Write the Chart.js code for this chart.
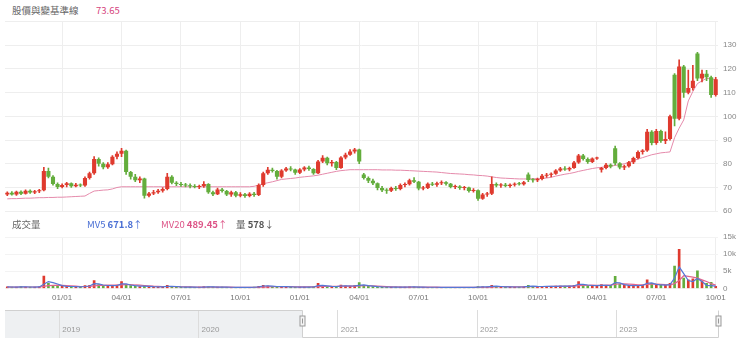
<!DOCTYPE html>
<html lang="zh-Hant">
<head>
<meta charset="utf-8">
<script src="https://cdn.jsdelivr.net/npm/chart.js@4.4.1/dist/chart.umd.min.js"></script>
<style>
  html, body { margin: 0; padding: 0; background: #fff; }
  body { width: 740px; height: 348px; position: relative; overflow: hidden;
         font-family: 'Noto Sans CJK TC', 'Liberation Sans', sans-serif; }
  canvas { position: absolute; left: 0; }
  .txt { position: absolute; font-size: 9.5px; line-height: 12px; white-space: nowrap; }
  .txt b { font-weight: 600; }
</style>
</head>
<body>
<div class="txt" style="left:12px;top:4px;color:#666">股價與變基準線</div>
<div class="txt" style="left:96px;top:4px;color:#d6447d">73.65</div>
<canvas id="priceChart" width="740" height="221" style="top:0"></canvas>
<div class="txt" style="left:12px;top:218px;color:#666">成交量</div>
<div class="txt" style="left:87px;top:218px;color:#4a6fd4">MV5 <b>671.8</b>↑</div>
<div class="txt" style="left:161px;top:218px;color:#dd5487">MV20 <b>489.45</b>↑</div>
<div class="txt" style="left:236px;top:218px;color:#555">量 <b>578</b>↓</div>
<canvas id="volumeChart" width="740" height="84" style="top:225px"></canvas>
<canvas id="navChart" width="740" height="43" style="top:305px"></canvas>
<script>
// weekly candles, one row per quarter (Oct 2020 .. Sep 2023)
const opens = [
  67.0, 67.8, 67.0, 68.2, 67.4, 68.6, 67.9, 68.4, 68.8, 77.0, 74.5, 71.5, 70.2,
  71.0, 71.8, 70.5, 71.2, 70.8, 74.0, 76.0, 82.0, 80.0, 78.5, 79.8, 83.0, 84.2,
  85.5, 76.5, 74.5, 73.0, 73.8, 66.5, 67.5, 68.0, 68.6, 69.4, 74.5, 72.0, 71.5,
  71.0, 70.8, 70.5, 70.2, 70.6, 71.5, 68.0, 67.2, 69.2, 68.5, 67.0, 68.0, 66.5,
  67.2, 66.4, 67.4, 66.8, 71.0, 76.0, 77.5, 77.0, 74.5, 77.2, 78.0, 77.6, 76.2,
  77.6, 78.4, 77.8, 76.0, 81.0, 82.5, 80.2, 80.8, 78.2, 82.6, 83.8, 85.2, 86.0,
  75.5, 74.0, 72.8, 71.8, 69.8, 68.8, 68.6, 69.8, 69.4, 71.0, 71.4, 73.0, 72.4,
  69.6, 69.8, 71.6, 71.2, 71.8, 72.2, 71.6, 70.2, 70.4, 69.8, 70.0, 68.5, 68.8,
  65.2, 67.0, 67.4, 71.5, 70.8, 71.2, 70.6, 71.2, 71.6, 71.4, 75.5, 73.2, 73.0,
  73.6, 75.0, 75.4, 75.8, 77.2, 78.0, 77.6, 78.2, 80.5, 83.5, 82.0, 80.8, 82.2,
  77.5, 78.2, 79.6, 86.5, 80.2, 78.4, 79.0, 80.6, 82.4, 85.0, 85.6, 93.5, 88.8,
  93.8, 89.6, 90.5, 117.5, 99.0, 121.0, 110.0, 112.0, 126.5, 116.0, 118.0, 116.5, 109.0
];
const highs = [
  68.2, 68.3, 68.5, 68.6, 69.0, 69.0, 68.8, 69.2, 78.5, 78.2, 75.0, 72.0, 71.5,
  72.2, 72.0, 71.8, 71.5, 74.5, 76.5, 83.0, 82.5, 80.5, 80.5, 83.5, 85.0, 86.5,
  85.8, 76.8, 75.5, 74.5, 74.0, 68.0, 68.8, 69.2, 70.0, 76.0, 75.0, 72.5, 72.2,
  71.8, 71.5, 71.2, 71.0, 72.5, 71.6, 68.5, 69.8, 69.6, 68.8, 68.5, 68.4, 67.8,
  67.5, 67.8, 68.0, 71.5, 76.5, 78.5, 78.2, 77.2, 77.5, 78.5, 78.8, 77.8, 78.0,
  78.8, 79.0, 78.0, 81.5, 83.5, 82.8, 81.5, 81.0, 83.0, 84.5, 86.0, 86.5, 86.2,
  76.0, 74.5, 73.5, 72.0, 70.5, 69.5, 70.2, 70.5, 71.5, 72.0, 73.5, 74.2, 72.6,
  70.5, 72.0, 72.2, 72.3, 72.8, 72.5, 71.8, 71.0, 70.8, 70.5, 70.2, 69.5, 69.0,
  67.5, 68.0, 74.5, 72.0, 71.6, 71.8, 71.5, 72.0, 72.2, 72.6, 76.2, 73.8, 74.0,
  75.5, 76.0, 76.2, 77.5, 78.5, 78.8, 78.6, 81.0, 84.0, 84.0, 82.5, 82.5, 82.8,
  78.5, 80.2, 80.0, 87.5, 80.5, 79.5, 81.0, 82.8, 85.5, 86.0, 94.5, 94.0, 94.5,
  94.2, 93.5, 100.5, 118.0, 123.8, 121.5, 119.5, 121.5, 127.0, 119.5, 119.4, 117.0, 116.5
];
const lows = [
  66.5, 66.8, 66.7, 67.0, 67.2, 67.5, 67.4, 67.8, 68.5, 74.0, 71.0, 69.5, 69.8,
  70.2, 70.0, 70.2, 70.3, 70.5, 73.5, 75.5, 79.0, 77.8, 78.0, 79.5, 82.0, 83.0,
  75.5, 73.5, 72.5, 72.0, 65.5, 66.0, 67.0, 67.5, 68.0, 69.0, 71.5, 70.8, 70.5,
  70.2, 69.8, 69.8, 69.5, 70.0, 67.5, 66.5, 67.0, 68.0, 66.5, 66.2, 66.0, 66.0,
  65.8, 66.0, 66.2, 66.5, 70.5, 75.5, 76.5, 73.5, 74.0, 76.8, 77.0, 75.5, 75.8,
  77.0, 77.2, 75.5, 75.8, 80.5, 79.5, 79.0, 77.5, 78.0, 82.0, 83.5, 84.5, 80.0,
  73.5, 72.0, 71.2, 69.0, 68.2, 67.5, 68.2, 68.8, 69.0, 70.2, 71.0, 72.0, 69.0,
  69.0, 69.5, 70.8, 70.5, 71.2, 71.0, 69.8, 69.5, 69.2, 69.0, 68.0, 68.0, 64.5,
  65.0, 66.2, 67.0, 70.2, 70.0, 70.2, 70.0, 70.6, 71.0, 71.0, 72.5, 72.2, 72.5,
  73.2, 74.2, 74.5, 75.5, 76.8, 77.2, 77.0, 78.0, 80.2, 81.5, 80.2, 80.5, 81.8,
  76.5, 77.8, 78.2, 79.5, 77.8, 77.5, 78.6, 80.0, 82.0, 84.0, 85.2, 88.0, 88.2,
  89.0, 88.5, 90.0, 96.0, 98.5, 108.0, 109.5, 111.0, 115.0, 114.5, 115.0, 108.0, 108.5
];
const closes = [
  67.8, 67.0, 68.2, 67.4, 68.6, 67.9, 68.4, 68.8, 77.0, 74.5, 71.5, 70.2, 71.0,
  71.8, 70.5, 71.2, 70.8, 74.0, 76.0, 82.0, 80.0, 78.5, 79.8, 83.0, 84.2, 85.5,
  76.5, 74.5, 73.0, 73.8, 66.5, 67.5, 68.0, 68.6, 69.4, 74.5, 72.0, 71.5, 71.0,
  70.8, 70.5, 70.2, 70.6, 71.5, 68.0, 67.2, 69.2, 68.5, 67.0, 68.0, 66.5, 67.2,
  66.4, 67.4, 66.8, 71.0, 76.0, 77.5, 77.0, 74.5, 77.2, 78.0, 77.6, 76.2, 77.6,
  78.4, 77.8, 76.0, 81.0, 82.5, 80.2, 80.8, 78.2, 82.6, 83.8, 85.2, 86.0, 81.0,
  74.0, 72.8, 71.8, 69.8, 68.8, 68.6, 69.8, 69.4, 71.0, 71.4, 73.0, 72.4, 69.6,
  69.8, 71.6, 71.2, 71.8, 72.2, 71.6, 70.2, 70.4, 69.8, 70.0, 68.5, 68.8, 65.2,
  67.0, 67.4, 71.5, 70.8, 71.2, 70.6, 71.2, 71.6, 71.4, 72.2, 73.2, 73.0, 73.6,
  75.0, 75.4, 75.8, 77.2, 78.0, 77.6, 78.2, 80.5, 83.5, 82.0, 80.8, 82.2, 82.4,
  78.2, 79.6, 78.8, 80.2, 78.4, 79.0, 80.6, 82.4, 85.0, 85.6, 93.5, 88.8, 93.8,
  89.6, 90.5, 100.0, 99.0, 121.0, 110.0, 112.0, 115.0, 116.0, 118.0, 116.5, 109.0, 115.6
];
// pink baseline
const baseLine = [
  65.2, 65.3, 65.3, 65.4, 65.5, 65.5, 65.6, 65.7, 65.7, 65.8, 65.8, 65.9, 65.9,
  66.0, 66.1, 66.2, 66.3, 66.4, 67.5, 68.5, 68.7, 68.9, 69.0, 69.4, 70.0, 70.3,
  70.3, 70.3, 70.3, 70.3, 70.3, 70.3, 70.3, 70.3, 70.3, 70.3, 70.3, 70.3, 70.3,
  70.3, 70.3, 70.3, 70.3, 70.3, 70.3, 70.3, 70.3, 70.3, 70.3, 70.3, 70.3, 70.3,
  70.3, 70.3, 70.5, 71.0, 71.6, 72.0, 72.4, 72.9, 73.4, 73.6, 73.8, 74.0, 74.3,
  74.5, 74.7, 74.9, 75.2, 75.6, 76.0, 76.4, 76.8, 77.1, 77.3, 77.5, 77.5, 77.5,
  77.5, 77.5, 77.5, 77.5, 77.4, 77.4, 77.4, 77.3, 77.3, 77.2, 77.1, 77.0, 76.9,
  76.8, 76.7, 76.6, 76.5, 76.3, 76.1, 75.9, 75.8, 75.7, 75.6, 75.4, 75.3, 75.1,
  75.0, 74.8, 74.5, 74.2, 74.0, 73.9, 73.8, 73.7, 73.6, 73.6, 73.6, 73.7, 73.7,
  73.8, 74.0, 74.3, 74.8, 75.2, 75.6, 75.9, 76.3, 76.8, 77.2, 77.6, 78.0, 78.3,
  78.5, 78.8, 79.0, 79.3, 79.6, 80.0, 80.6, 81.3, 82.0, 82.6, 83.2, 83.8, 84.2,
  84.6, 84.8, 85.0, 91.0, 95.0, 98.5, 106.5, 110.5, 113.8, 115.0, 116.0, 115.8, 115.5
];
const volumes = [
  450, 380, 420, 500, 400, 360, 420, 450, 3600, 1500, 900, 700, 600,
  520, 480, 450, 420, 800, 900, 2300, 1100, 800, 700, 900, 1000, 2000,
  1200, 800, 600, 550, 800, 500, 450, 420, 400, 900, 600, 450, 400,
  380, 350, 330, 350, 500, 450, 400, 380, 350, 330, 320, 300, 320,
  300, 320, 350, 600, 900, 700, 500, 450, 550, 450, 400, 380, 400,
  420, 380, 450, 1500, 800, 600, 500, 450, 1000, 700, 650, 800, 1700,
  900, 600, 500, 450, 400, 380, 350, 350, 380, 400, 450, 400, 350,
  320, 330, 340, 320, 300, 300, 280, 280, 290, 300, 300, 320, 500,
  450, 400, 900, 500, 450, 420, 400, 400, 420, 450, 900, 600, 500,
  550, 600, 550, 650, 700, 650, 700, 900, 2000, 900, 800, 700, 900,
  1100, 800, 900, 3500, 1200, 900, 800, 800, 900, 1000, 2500, 1500, 900,
  1000, 900, 1500, 6500, 11400, 3000, 2500, 2800, 5100, 2200, 1500, 1800, 578
];
const mv5 = [
  420, 410, 400, 430, 430, 410, 400, 420, 1200, 2000, 1700, 1300, 800,
  600, 550, 500, 460, 550, 700, 1400, 1300, 1000, 850, 800, 850, 1300,
  1300, 1000, 800, 650, 650, 600, 500, 460, 430, 600, 600, 550, 450,
  400, 370, 350, 340, 400, 430, 420, 400, 370, 350, 330, 320, 315,
  310, 310, 330, 420, 700, 750, 650, 550, 520, 500, 450, 410, 400,
  400, 400, 410, 800, 900, 750, 600, 520, 700, 750, 700, 720, 900,
  1000, 800, 650, 520, 450, 410, 380, 360, 360, 380, 410, 420, 390,
  350, 330, 330, 330, 320, 310, 300, 290, 285, 290, 300, 305, 380,
  430, 430, 600, 650, 550, 470, 430, 410, 410, 420, 600, 650, 580,
  550, 570, 580, 600, 640, 660, 680, 750, 1200, 1200, 1000, 850, 800,
  900, 900, 850, 1700, 1600, 1100, 900, 830, 850, 900, 1500, 1600, 1200,
  1000, 950, 1100, 3000, 6300, 4300, 2300, 2000, 2900, 2000, 900, 800, 672
];
const mv20 = [
  400, 400, 400, 410, 410, 410, 410, 410, 600, 800, 900, 950, 900,
  850, 750, 650, 550, 550, 580, 750, 850, 900, 950, 950, 950, 1050,
  1100, 1100, 1000, 950, 850, 750, 650, 600, 550, 550, 520, 500, 480,
  460, 430, 400, 380, 380, 380, 390, 390, 380, 370, 350, 340, 330,
  320, 320, 320, 340, 400, 450, 500, 520, 520, 510, 490, 470, 450,
  440, 430, 420, 500, 560, 600, 620, 620, 640, 660, 660, 680, 750,
  800, 780, 740, 680, 600, 540, 480, 430, 400, 390, 390, 390, 390,
  380, 370, 360, 350, 340, 330, 320, 310, 300, 300, 300, 300, 310,
  330, 350, 400, 450, 480, 490, 480, 470, 460, 450, 480, 520, 540,
  550, 560, 570, 580, 600, 620, 640, 670, 800, 880, 920, 930, 900,
  920, 950, 950, 1200, 1350, 1300, 1250, 1150, 1050, 1000, 1150, 1250, 1250,
  1200, 1100, 1050, 1400, 2300, 3700, 3500, 3300, 3000, 2500, 2000, 1400, 950
];
const priceTicks = [60, 70, 80, 90, 100, 110, 120, 130, 140];
const volumeTicks = [0, 5000, 10000, 15000];
// navigator: year range and the selected window (in years)
const navRange = [2018.61, 2023.73];
const navSelection = [2020.745, 2023.73];
const navYears = [2019, 2020, 2021, 2022, 2023];

const upColor = '#df3a2e';
const downColor = '#63ad3c';
const gridColor = '#eeeeee';
const tickFont = { family: 'Liberation Sans', size: 8 };

function weekDay(i, d) {
  return new Date(2020, 9, 5 + 7 * i + d);
}
const weekLabels = closes.map((_, i) => {
  const d = weekDay(i, 0);
  return d.getFullYear() + '-' + (d.getMonth() + 1) + '-' + d.getDate();
});
function quarterLabel(i) {
  for (let d = 0; d < 7; d++) {
    const day = weekDay(i, d);
    if (day.getDate() === 1 && day.getMonth() % 3 === 0) {
      return String(day.getMonth() + 1).padStart(2, '0') + '/01';
    }
  }
  return '';
}
const candleColors = closes.map((c, i) => (c >= opens[i] ? upColor : downColor));

function xAxis(showLabels) {
  return {
    type: 'category',
    offset: true,
    border: { display: false },
    grid: {
      offset: false,
      drawTicks: false,
      color: ctx => (quarterLabel(ctx.index) ? gridColor : 'rgba(0,0,0,0)')
    },
    ticks: {
      display: showLabels,
      autoSkip: false,
      maxRotation: 0,
      padding: 5,
      color: '#777',
      font: tickFont,
      callback: (v, i) => quarterLabel(i)
    }
  };
}

new Chart(document.getElementById('priceChart'), {
  type: 'bar',
  data: {
    labels: weekLabels,
    datasets: [
      { type: 'line', data: baseLine, borderColor: '#e58aab', borderWidth: 1,
        pointRadius: 0, order: 3 },
      { data: lows.map((l, i) => [l, highs[i]]), backgroundColor: candleColors,
        barThickness: 1, grouped: false, order: 2 },
      { data: opens.map((o, i) => [o, closes[i]]), backgroundColor: candleColors,
        barPercentage: 0.9, categoryPercentage: 1, minBarLength: 1, grouped: false, order: 1 }
    ]
  },
  options: {
    responsive: false,
    animation: false,
    layout: { padding: { top: 21.5, bottom: 6, left: 5, right: 3 } },
    plugins: { legend: { display: false }, tooltip: { enabled: false } },
    scales: {
      x: xAxis(false),
      y: {
        position: 'right',
        min: priceTicks[0],
        max: priceTicks[priceTicks.length - 1],
        afterBuildTicks: s => { s.ticks = priceTicks.map(v => ({ value: v })); },
        afterFit: s => { s.width = 19; },
        border: { display: false },
        grid: { color: gridColor, drawTicks: false },
        ticks: { padding: 5, color: '#888', font: tickFont,
                 callback: v => (v === 140 ? '' : v) }
      }
    }
  }
});

new Chart(document.getElementById('volumeChart'), {
  type: 'bar',
  data: {
    labels: weekLabels,
    datasets: [
      { type: 'line', data: mv5, borderColor: '#5577d6', borderWidth: 1.2,
        pointRadius: 0, order: 1 },
      { type: 'line', data: mv20, borderColor: '#e0668f', borderWidth: 1.2,
        pointRadius: 0, order: 1 },
      { data: volumes, backgroundColor: candleColors, barThickness: 2,
        grouped: false, order: 2 }
    ]
  },
  options: {
    responsive: false,
    animation: false,
    layout: { padding: { top: 12, bottom: 1, left: 5, right: 3 } },
    plugins: { legend: { display: false }, tooltip: { enabled: false } },
    scales: {
      x: xAxis(true),
      y: {
        position: 'right',
        min: 0,
        max: volumeTicks[volumeTicks.length - 1],
        afterBuildTicks: s => { s.ticks = volumeTicks.map(v => ({ value: v })); },
        afterFit: s => { s.width = 19; },
        border: { display: false },
        grid: { color: '#f3f3f3', drawTicks: false },
        ticks: { padding: 5, color: '#888', font: tickFont,
                 callback: v => (v === 0 ? '0' : v / 1000 + 'k') }
      }
    }
  }
});

const navigatorPlugin = {
  id: 'navigatorMask',
  beforeDraw(chart) {
    const { ctx, chartArea: a, scales: { x } } = chart;
    const x0 = x.getPixelForValue(navSelection[0]);
    const x1 = x.getPixelForValue(navSelection[1]);
    ctx.save();
    ctx.fillStyle = '#eef0f2';
    ctx.fillRect(a.left, a.top, x0 - a.left, a.bottom - a.top);
    if (x1 < a.right) ctx.fillRect(x1, a.top, a.right - x1, a.bottom - a.top);
    ctx.restore();
  },
  afterDraw(chart) {
    const { ctx, chartArea: a, scales: { x } } = chart;
    const x0 = Math.round(x.getPixelForValue(navSelection[0])) + 0.5;
    const x1 = Math.round(x.getPixelForValue(navSelection[1])) + 0.5;
    ctx.save();
    ctx.strokeStyle = '#d0d0d0';
    ctx.lineWidth = 1;
    ctx.beginPath();
    ctx.moveTo(a.left, a.top + 0.5);
    ctx.lineTo(x0, a.top + 0.5);
    ctx.lineTo(x0, a.bottom - 0.5);
    ctx.lineTo(x1, a.bottom - 0.5);
    ctx.lineTo(x1, a.top + 0.5);
    ctx.stroke();
    ctx.fillStyle = '#999';
    ctx.font = '8px "Liberation Sans"';
    ctx.textBaseline = 'middle';
    navYears.forEach(y => {
      ctx.fillText(String(y), x.getPixelForValue(y) + 3, a.bottom - 8);
    });
    [x0, x1].forEach(px => {
      ctx.fillStyle = '#f4f4f4';
      ctx.strokeStyle = '#999';
      ctx.fillRect(px - 2.5, a.top + 6, 5, 10);
      ctx.strokeRect(px - 2.5, a.top + 6, 5, 10);
      ctx.beginPath();
      ctx.moveTo(px, a.top + 8.5);
      ctx.lineTo(px, a.top + 13.5);
      ctx.stroke();
    });
    ctx.restore();
  }
};

new Chart(document.getElementById('navChart'), {
  type: 'line',
  data: { datasets: [] },
  plugins: [navigatorPlugin],
  options: {
    responsive: false,
    animation: false,
    layout: { padding: { top: 5, bottom: 10, left: 5, right: 22 } },
    plugins: { legend: { display: false }, tooltip: { enabled: false } },
    scales: {
      x: {
        type: 'linear',
        min: navRange[0],
        max: navRange[1],
        afterBuildTicks: s => { s.ticks = navYears.map(v => ({ value: v })); },
        border: { display: false },
        grid: { color: '#dcdcdc', drawTicks: false },
        ticks: { display: false }
      },
      y: { display: false, min: 0, max: 1 }
    }
  }
});
</script>
</body>
</html>
